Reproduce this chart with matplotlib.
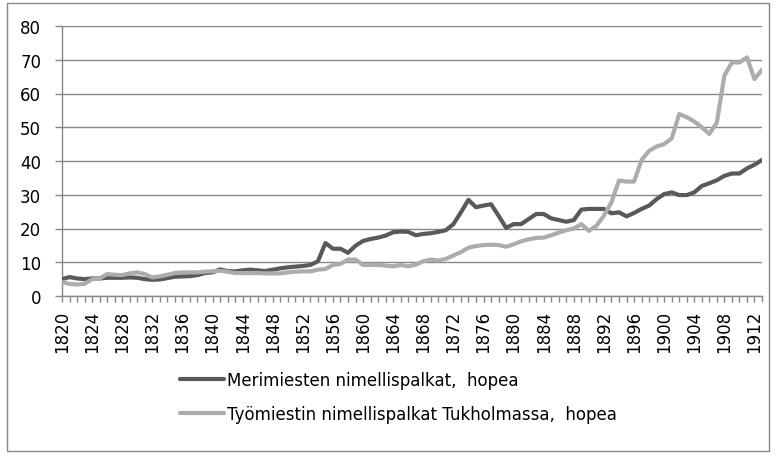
import matplotlib
matplotlib.use("Agg")
import matplotlib.pyplot as plt
from matplotlib.patches import Rectangle
from matplotlib.ticker import MultipleLocator

years = list(range(1820, 1914))

merimiesten = [
    5.0, 5.6, 5.2, 5.0, 5.2, 5.2, 5.4, 5.4, 5.4, 5.5,
    5.4, 5.0, 4.8, 4.9, 5.3, 5.7, 5.8, 5.9, 6.2, 6.8,
    7.0, 7.9, 7.4, 7.3, 7.6, 7.8, 7.6, 7.4, 7.8, 8.2,
    8.5, 8.7, 8.9, 9.2, 10.3, 15.7, 14.0, 14.0, 12.8, 14.9,
    16.3, 16.9, 17.3, 17.9, 18.9, 19.1, 19.0, 18.0, 18.4, 18.6,
    19.0, 19.5, 21.3, 24.8, 28.5, 26.3, 26.8, 27.2, 23.8, 20.2,
    21.3, 21.3, 22.8, 24.3, 24.3, 23.0, 22.5, 22.0, 22.5, 25.6,
    25.8, 25.8, 25.8, 24.5, 24.8, 23.6, 24.6, 25.8, 26.8, 28.7,
    30.2, 30.7, 29.9, 29.9, 30.7, 32.6, 33.4, 34.3, 35.6, 36.3,
    36.3, 37.8, 38.9, 40.3,
]

tyomiestin = [
    4.1, 3.6, 3.4, 3.6, 5.0, 5.2, 6.5, 6.3, 6.2, 6.7,
    7.0, 6.5, 5.5, 5.8, 6.3, 6.8, 7.0, 7.0, 7.0, 7.2,
    7.3, 7.5, 7.2, 6.8, 6.8, 6.8, 6.8, 6.7, 6.7, 6.7,
    7.0, 7.2, 7.3, 7.3, 7.8, 8.0, 9.2, 9.5, 10.8, 10.8,
    9.2, 9.2, 9.2, 9.0, 8.8, 9.2, 8.8, 9.3, 10.3, 10.8,
    10.5, 11.0, 12.0, 13.0, 14.3, 14.8, 15.1, 15.2, 15.1, 14.6,
    15.3, 16.2, 16.8, 17.2, 17.3, 18.0, 18.8, 19.5, 20.0, 21.3,
    19.3, 20.8, 23.8, 27.8, 34.2, 33.9, 33.9, 40.3, 43.0, 44.3,
    45.0, 46.7, 53.9, 53.0, 51.7, 50.0, 48.0, 51.4, 65.3, 69.2,
    69.2, 70.7, 64.3, 67.0,
]

label_years = list(range(1820, 1914, 4))
y_ticks = [0, 10, 20, 30, 40, 50, 60, 70, 80]
series_names = ["Merimiesten nimellispalkat,  hopea",
                "Työmiestin nimellispalkat Tukholmassa,  hopea"]

plt.rcParams['font.family'] = ['DejaVu Sans']

W, H = 776, 456
fig = plt.figure(figsize=(W / 100, H / 100), dpi=100)
ax = fig.add_axes([62 / W, 1 - 297 / H, 700 / W, 270 / H])

dark = "#595959"
light = "#acacac"
grid_c = "#888888"

l1, = ax.plot(years, merimiesten, color=dark, lw=3.0, solid_joinstyle="round",
              solid_capstyle="round", zorder=3)
l2, = ax.plot(years, tyomiestin, color=light, lw=3.0, solid_joinstyle="round",
              solid_capstyle="round", zorder=4)

ax.set_xlim(1820, 1913)
ax.set_ylim(0, 80)
ax.set_yticks(y_ticks)
ax.set_xticks(label_years)
ax.set_xticklabels([str(y) for y in label_years], rotation=90, fontsize=12)
ax.xaxis.set_minor_locator(MultipleLocator(1))
ax.tick_params(axis="x", which="both", direction="out", length=4, width=1,
               color=grid_c, pad=6)
ax.tick_params(axis="y", direction="out", length=5, width=1, color=grid_c,
               labelsize=12, pad=10)

ax.grid(axis="y", color=grid_c, lw=1)
ax.set_axisbelow(True)
for s in ["top", "right"]:
    ax.spines[s].set_visible(False)
for s in ["left", "bottom"]:
    ax.spines[s].set_color(grid_c)
    ax.spines[s].set_linewidth(1)

fig.legend([l1, l2], series_names, loc="center left",
           bbox_to_anchor=(172 / W, 1 - 398 / H), frameon=False,
           fontsize=12, handlelength=2.6, handletextpad=0.2,
           borderpad=0, labelspacing=0.95)

fig.patches.append(Rectangle((7 / W, 4 / H), 762 / W, 448 / H,
                             transform=fig.transFigure, fill=False,
                             edgecolor=grid_c, lw=1))

fig.savefig("out.png", dpi=100)
